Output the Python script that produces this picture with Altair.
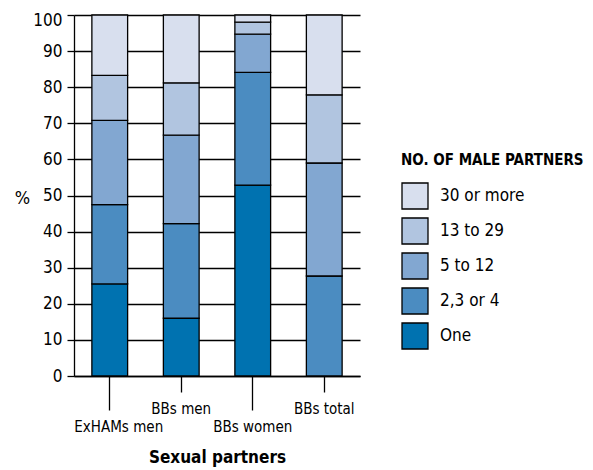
import altair as alt
import pandas as pd

groups = ["ExHAMs men", "BBs men", "BBs women", "BBs total"]
categories = ["One", "2,3 or 4", "5 to 12", "13 to 29", "30 or more"]  # bottom to top
one = [25.5, 16.0, 52.9, 0.0]
two_to_four = [22.0, 26.2, 31.2, 27.7]
five_to_twelve = [23.3, 24.5, 10.6, 31.3]
thirteen_to_29 = [12.5, 14.5, 3.3, 18.9]
thirty_plus = [16.7, 18.8, 2.0, 22.1]
series = [one, two_to_four, five_to_twelve, thirteen_to_29, thirty_plus]

legend_order = ["30 or more", "13 to 29", "5 to 12", "2,3 or 4", "One"]
palette = ["#d8dfee", "#b1c5e0", "#82a7d1", "#4b8cc1", "#0072b0"]

rows = []
for rank, (cat, vals) in enumerate(zip(categories, series)):
    for g, v in zip(groups, vals):
        rows.append({"group": g, "partners": cat, "rank": rank, "pct": v})
df = pd.DataFrame(rows)

FONT = "DejaVu Sans Condensed, Liberation Sans, sans-serif"

chart = alt.Chart(df).transform_filter("datum.pct > 0").mark_bar(
    stroke="black", strokeWidth=1.3
).encode(
    x=alt.X(
        "group:N", sort=groups,
        scale=alt.Scale(paddingInner=0.5, paddingOuter=0.25),
        axis=alt.Axis(
            title="Sexual partners", labelAngle=0, labelFontSize=15,
            titleFontSize=17, titleFontWeight="bold",
            titleBaseline="alphabetic", titleY=86,
            domainColor="black", domainWidth=1.3, tickColor="black", tickWidth=1.3,
            tickSize={"condition": {"test": "indexof(['ExHAMs men','BBs women'], datum.value) >= 0", "value": 34}, "value": 16},
            labelOffset={"condition": {"test": "datum.value === 'ExHAMs men'", "value": 9}, "value": 0},
            labelPadding=9, labelColor="black", titleColor="black",
        ),
    ),
    y=alt.Y(
        "pct:Q", stack="zero",
        scale=alt.Scale(domain=[0, 100], nice=False),
        axis=alt.Axis(
            title="%", titleAngle=0, titleX=-52, titleY=183,
            titleAlign="center", titleBaseline="middle",
            titleFontSize=18, titleFontWeight="normal",
            values=list(range(0, 101, 10)), labelFontSize=17,
            labelOffset={"condition": {"test": "datum.value === 100", "value": 5}, "value": 0},
            grid=True, gridColor="black", gridWidth=1.3, gridOpacity=1,
            domainColor="black", domainWidth=1.3, tickColor="black", tickWidth=1.3,
            tickSize=7, labelPadding=5, labelColor="black", titleColor="black",
        ),
    ),
    color=alt.Color(
        "partners:N",
        scale=alt.Scale(domain=legend_order, range=palette),
        legend=alt.Legend(
            title="NO. OF MALE PARTNERS", orient="none", legendX=327, legendY=138,
            symbolType="square", symbolSize=676, symbolStrokeColor="black",
            symbolStrokeWidth=1.3, symbolOpacity=1, labelFontSize=17,
            titleFontSize=15, titleFontWeight="bold", titlePadding=14,
            titleLimit=400, labelLimit=300,
            rowPadding=3, labelOffset=11, labelColor="black", titleColor="black",
        ),
    ),
    order=alt.Order("rank:Q", sort="ascending"),
).properties(
    width=286, height=361,
    autosize=alt.AutoSizeParams(type="none"),
    padding={"left": 66, "top": 7, "right": 225, "bottom": 92},
).configure(font=FONT).configure_view(stroke=None)

chart.save("out.html", embed_options={"renderer": "svg", "actions": False})
